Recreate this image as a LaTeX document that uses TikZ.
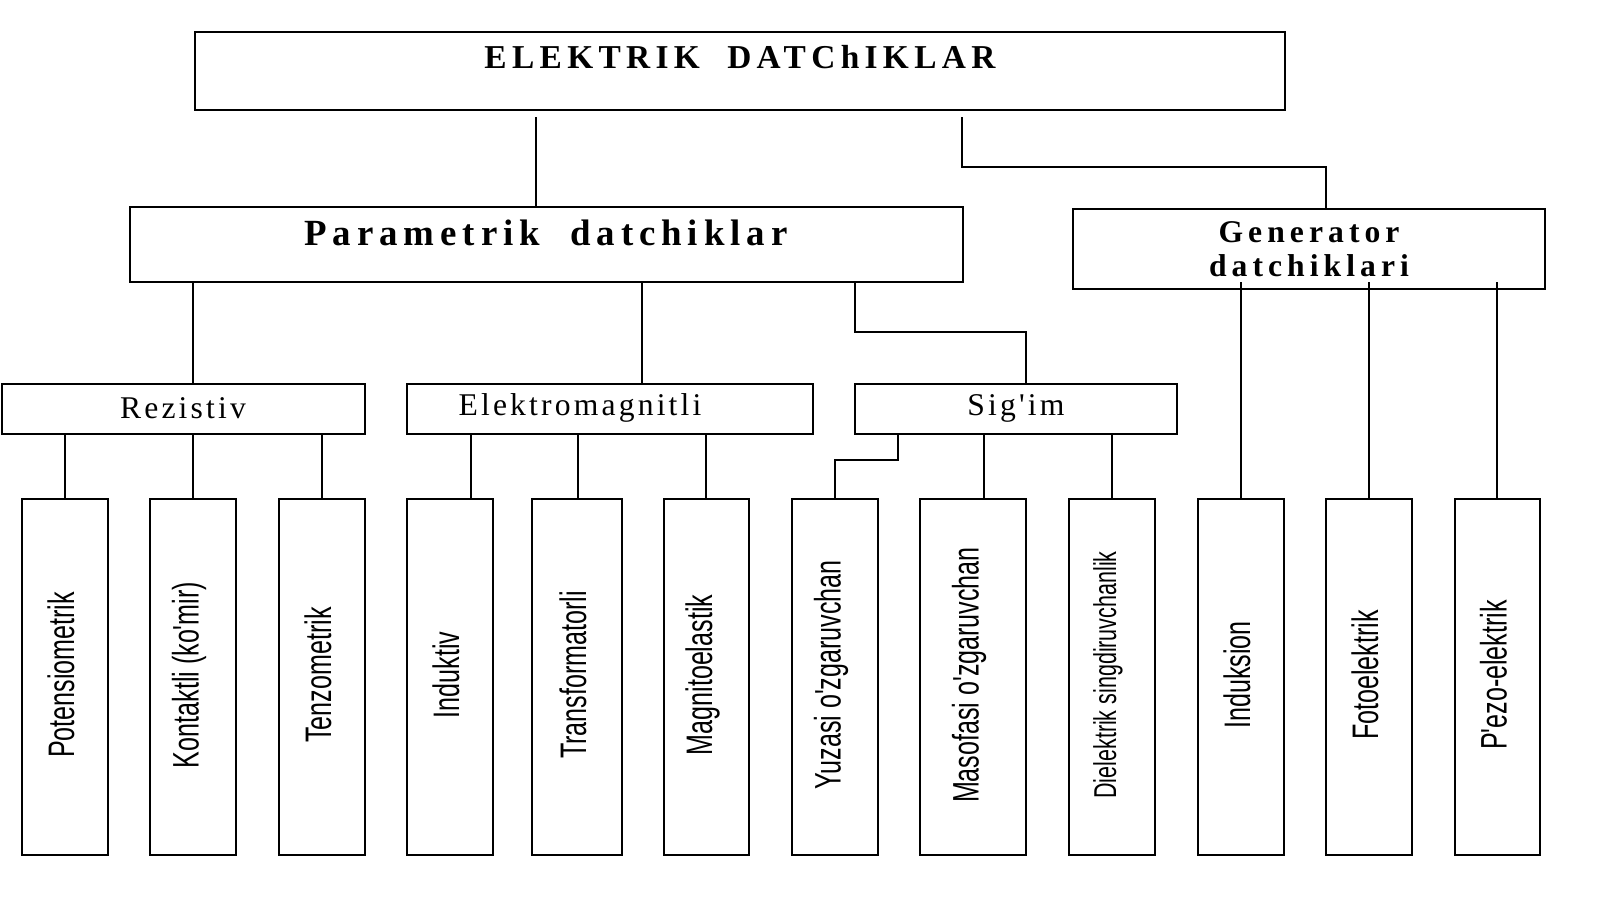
\documentclass[tikz,border=0pt]{standalone}
\usepackage{fontspec}
\setmainfont{Liberation Serif}
\newfontfamily\hdr[LetterSpace=16]{Liberation Serif}
\newfontfamily\hdrm[LetterSpace=10]{Liberation Serif}
\newfontfamily\leaffont{Liberation Sans}
\begin{document}
\begin{tikzpicture}[x=0.02cm,y=-0.02cm,line width=1.3pt,
  box/.style={draw,black},
  leaf/.style={font=\leaffont\fontsize{21}{23}\selectfont,rotate=90,inner sep=0},
  big/.style={font=\hdr\bfseries\fontsize{19}{21}\selectfont},
  mid/.style={font=\hdrm\fontsize{18}{20}\selectfont}]
\useasboundingbox (0,0) rectangle (1600,899);
% main boxes
\draw[box] (195,32) rectangle (1285,110);
\node[big] (t) at (740,57) {ELEKTRIK\ \ DATChIKLAR};
\draw[box] (130,207) rectangle (963,282);
\node[big,font=\hdr\bfseries\fontsize{21}{23}\selectfont] (p) at (546,233) {Parametrik\ \ datchiklar};
\draw[box] (1073,209) rectangle (1545,289);
\node[big,align=center,font=\hdr\bfseries\fontsize{18}{19}\selectfont] (g) at (1309,249) {Generator\\datchiklari};
\draw[box] (2,384) rectangle (365,434);
\node[mid] (r) at (183,408) {Rezistiv};
\draw[box] (407,384) rectangle (813,434);
\node[mid] (e) at (580,408) {Elektromagnitli};
\draw[box] (855,384) rectangle (1177,434);
\node[mid] (s) at (1016,408) {Sig'im};
% connectors
\coordinate (c1) at (536,117); \coordinate (c2) at (536,207);
\draw (c1)--(c2);
\coordinate (c3) at (962,117); \coordinate (c4) at (1326,209);
\draw (c3)|-(1326,167)--(c4);
\coordinate (d1) at (193,282); \coordinate (d2) at (193,384); \draw (d1)--(d2);
\coordinate (d3) at (642,282); \coordinate (d4) at (642,384); \draw (d3)--(d4);
\coordinate (d5) at (855,282); \coordinate (d6) at (1026,384); \draw (d5)|-(1026,332)--(d6);
% leaves
\foreach \xa/\xb/\txt [count=\i] in {
 22/108/Potensiometrik, 150/236/{Kontaktli (ko'mir)}, 279/365/Tenzometrik,
 407/493/Induktiv, 532/622/Transformatorli, 664/749/Magnitoelastik,
 792/878/{Yuzasi o'zgaruvchan}, 920/1026/{Masofasi o'zgaruvchan}, 1069/1155/{\fontsize{18}{19}\selectfont Dielektrik singdiruvchanlik},
 1198/1284/Induksion, 1326/1412/Fotoelektrik, 1455/1540/{P'ezo-elektrik}}{
  \draw[box] (\xa,499) rectangle (\xb,855);
  \node[leaf] (l\i) at ({(\xa+\xb)/2-4},675) {\scalebox{0.68}[1]{\txt}};
}
\foreach \x in {65,193,322} \draw (\x,434)--(\x,499);
\foreach \x in {471,578,706} \draw (\x,434)--(\x,499);
\draw (898,434)--(898,460)--(835,460)--(835,499);
\foreach \x in {984,1112} \draw (\x,434)--(\x,499);
\foreach \x in {1241,1369,1497} \draw (\x,282)--(\x,499);
\end{tikzpicture}
\end{document}
